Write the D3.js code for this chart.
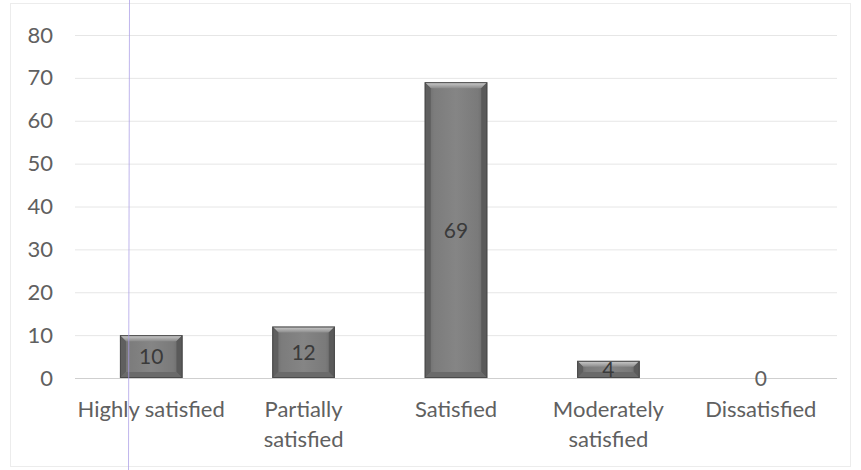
<!DOCTYPE html>
<html>
<head>
<meta charset="utf-8">
<script src="https://cdn.jsdelivr.net/npm/d3@7/dist/d3.min.js"></script>
<style>
  html, body { margin: 0; padding: 0; background: #fff; }
  svg { display: block; }
  text { font-family: Lato, "Open Sans", sans-serif; }
</style>
</head>
<body>
<svg id="chart" width="861" height="470"></svg>
<script>
// Satisfaction survey: number of respondents per level
const categories = [
  ["Highly satisfied"],
  ["Partially", "satisfied"],
  ["Satisfied"],
  ["Moderately", "satisfied"],
  ["Dissatisfied"]
];
const values = [10, 12, 69, 4, 0];
const yTicks = [0, 10, 20, 30, 40, 50, 60, 70, 80];

const W = 861, H = 470;
const plot = { left: 75, right: 837, top: 35, bottom: 378 };

const svg = d3.select("#chart");

// outer chart frame
svg.append("rect")
  .attr("x", 10.5).attr("y", 3.5)
  .attr("width", 840).attr("height", 463)
  .attr("fill", "#fff")
  .attr("stroke", "#ececec");

const x = d3.scaleBand()
  .domain(categories.map(c => c.join(" ")))
  .range([plot.left, plot.right])
  .paddingInner(0.59)
  .paddingOuter(0.295);

const y = d3.scaleLinear()
  .domain([0, 80])
  .range([plot.bottom, plot.top]);

// gridlines + value axis labels
const yAxis = d3.axisLeft(y)
  .tickValues(yTicks)
  .tickSize(-(plot.right - plot.left))
  .tickPadding(22)
  .tickFormat(d3.format("d"));

const gy = svg.append("g")
  .attr("transform", `translate(${plot.left},0)`)
  .call(yAxis);
gy.select(".domain").remove();
gy.selectAll(".tick line")
  .attr("stroke", d => d === 0 ? "#cfcfcf" : "#e6e6e6")
  .attr("stroke-width", 1);
gy.selectAll(".tick text")
  .attr("fill", "#606060")
  .style("font-size", "22px");

// bar gradients
const defs = svg.append("defs");
const body = defs.append("linearGradient")
  .attr("id", "barBody").attr("x1", 0).attr("x2", 1).attr("y1", 0).attr("y2", 0);
body.append("stop").attr("offset", "0%").attr("stop-color", "#666666");
body.append("stop").attr("offset", "15%").attr("stop-color", "#7c7c7c");
body.append("stop").attr("offset", "50%").attr("stop-color", "#858585");
body.append("stop").attr("offset", "85%").attr("stop-color", "#7a7a7a");
body.append("stop").attr("offset", "100%").attr("stop-color", "#626262");

const topBevel = defs.append("linearGradient")
  .attr("id", "barTop").attr("x1", 0).attr("x2", 0).attr("y1", 0).attr("y2", 1);
topBevel.append("stop").attr("offset", "0%").attr("stop-color", "#d0d0d0");
topBevel.append("stop").attr("offset", "100%").attr("stop-color", "#8c8c8c");

const bevel = 6;
const bars = svg.append("g").selectAll("g")
  .data(values.map((v, i) => ({ v, key: categories[i].join(" ") })))
  .join("g")
  .filter(d => d.v > 0);

bars.each(function(d) {
  const g = d3.select(this);
  const x0 = x(d.key), x1 = x0 + x.bandwidth();
  const y0 = y(d.v), y1 = y(0);
  const b = Math.min(bevel, (y1 - y0) / 2, (x1 - x0) / 2);

  g.append("rect")
    .attr("x", x0).attr("y", y0)
    .attr("width", x1 - x0).attr("height", y1 - y0)
    .attr("fill", "url(#barBody)");

  // bevel faces
  g.append("polygon")
    .attr("points", [[x0, y0], [x1, y0], [x1 - b, y0 + b], [x0 + b, y0 + b]].join(" "))
    .attr("fill", "url(#barTop)");
  g.append("polygon")
    .attr("points", [[x0, y0], [x0 + b, y0 + b], [x0 + b, y1 - b], [x0, y1]].join(" "))
    .attr("fill", "#5f5f5f");
  g.append("polygon")
    .attr("points", [[x1, y0], [x1 - b, y0 + b], [x1 - b, y1 - b], [x1, y1]].join(" "))
    .attr("fill", "#5a5a5a");
  g.append("polygon")
    .attr("points", [[x0, y1], [x0 + b, y1 - b], [x1 - b, y1 - b], [x1, y1]].join(" "))
    .attr("fill", "#6a6a6a");

  g.append("rect")
    .attr("x", x0 + 0.5).attr("y", y0 + 0.5)
    .attr("width", x1 - x0 - 1).attr("height", y1 - y0 - 1)
    .attr("fill", "none")
    .attr("stroke", "#4a4a4a")
    .attr("stroke-width", 1);
});

// data labels, centred on each bar
svg.append("g").selectAll("text")
  .data(values.map((v, i) => ({ v, key: categories[i].join(" ") })))
  .join("text")
  .attr("x", d => x(d.key) + x.bandwidth() / 2)
  .attr("y", d => (y(d.v) + y(0)) / 2)
  .attr("dy", "0.36em")
  .attr("text-anchor", "middle")
  .attr("fill", d => d.v > 0 ? "#3a3a3a" : "#606060")
  .style("font-size", "21px")
  .text(d => d.v);

// category labels
const cat = svg.append("g").selectAll("text")
  .data(categories)
  .join("text")
  .attr("x", d => x(d.join(" ")) + x.bandwidth() / 2)
  .attr("y", 409)
  .attr("text-anchor", "middle")
  .attr("fill", "#606060")
  .style("font-size", "22px");
cat.selectAll("tspan")
  .data(d => d)
  .join("tspan")
  .attr("x", function() { return d3.select(this.parentNode).attr("x"); })
  .attr("dy", (d, i) => i === 0 ? "0.36em" : "30px")
  .text(d => d);

// faint vertical scan line
svg.append("line")
  .attr("x1", 129.5).attr("x2", 128.5)
  .attr("y1", 0).attr("y2", H)
  .attr("stroke", "#a99ce6")
  .attr("stroke-opacity", 0.75)
  .attr("stroke-width", 1);
</script>
</body>
</html>
